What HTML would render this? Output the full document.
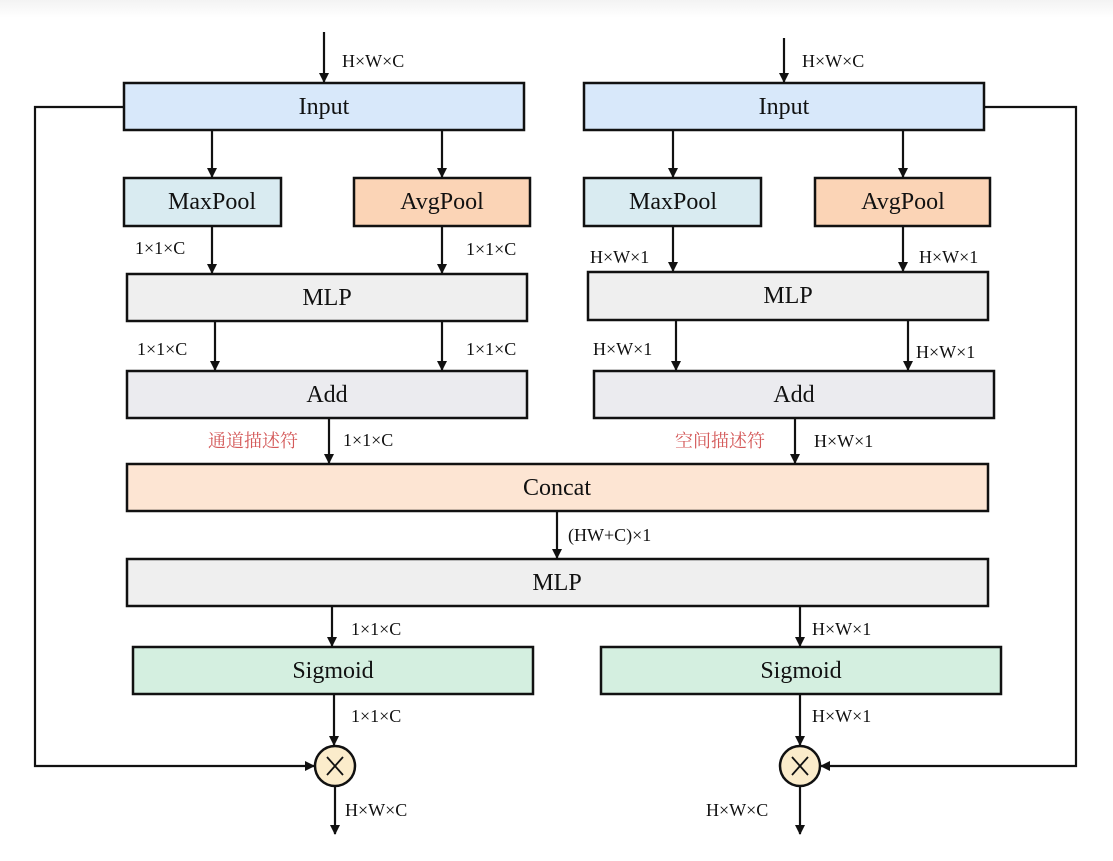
<!DOCTYPE html>
<html><head><meta charset="utf-8"><style>
html,body{margin:0;padding:0;background:#fff;}
svg{display:block;}
text{font-family:"Liberation Serif","Noto Serif CJK SC",serif;fill:#111;}
.b{font-size:24px;text-anchor:middle;dominant-baseline:central;}
.l{font-size:18px;}
.r{font-size:18px;fill:#d45a5a;font-family:"Liberation Serif","Noto Serif CJK SC",serif;}
</style></head><body>
<svg width="1113" height="861" viewBox="0 0 1113 861" xmlns="http://www.w3.org/2000/svg">
<defs>
<linearGradient id="tg" x1="0" y1="0" x2="0" y2="1"><stop offset="0" stop-color="#f3f3f3"/><stop offset="1" stop-color="#fff"/></linearGradient>
<marker id="a" markerWidth="10" markerHeight="10" refX="9" refY="5" orient="auto" markerUnits="userSpaceOnUse"><path d="M0,0 L10,5 L0,10 Z" fill="#111"/></marker>
</defs>
<rect x="0" y="0" width="1113" height="18" fill="url(#tg)"/>
<g stroke="#111" stroke-width="2.5">
<rect x="124" y="83" width="400" height="47" fill="#d8e8fa"/>
<rect x="584" y="83" width="400" height="47" fill="#d8e8fa"/>
<rect x="124" y="178" width="157" height="48" fill="#d9ebf1"/>
<rect x="354" y="178" width="176" height="48" fill="#fbd4b6"/>
<rect x="584" y="178" width="177" height="48" fill="#d9ebf1"/>
<rect x="815" y="178" width="175" height="48" fill="#fbd4b6"/>
<rect x="127" y="274" width="400" height="47" fill="#efefef"/>
<rect x="588" y="272" width="400" height="48" fill="#efefef"/>
<rect x="127" y="371" width="400" height="47" fill="#ebebef"/>
<rect x="594" y="371" width="400" height="47" fill="#ebebef"/>
<rect x="127" y="464" width="861" height="47" fill="#fde5d3"/>
<rect x="127" y="559" width="861" height="47" fill="#efefef"/>
<rect x="133" y="647" width="400" height="47" fill="#d4efe0"/>
<rect x="601" y="647" width="400" height="47" fill="#d4efe0"/>
<circle cx="335" cy="766" r="20" fill="#fbeccb"/>
<circle cx="800" cy="766" r="20" fill="#fbeccb"/>
</g>
<g stroke="#111" stroke-width="1.8">
<line x1="327" y1="757" x2="343" y2="775"/><line x1="343" y1="757" x2="327" y2="775"/>
<line x1="792" y1="757" x2="808" y2="775"/><line x1="808" y1="757" x2="792" y2="775"/>
</g>
<g stroke="#111" stroke-width="2.2" fill="none" marker-end="url(#a)">
<line x1="324" y1="32" x2="324" y2="82"/>
<line x1="784" y1="38" x2="784" y2="82"/>
<line x1="212" y1="131" x2="212" y2="177"/>
<line x1="442" y1="131" x2="442" y2="177"/>
<line x1="673" y1="131" x2="673" y2="177"/>
<line x1="903" y1="131" x2="903" y2="177"/>
<line x1="212" y1="227" x2="212" y2="273"/>
<line x1="442" y1="227" x2="442" y2="273"/>
<line x1="673" y1="227" x2="673" y2="271"/>
<line x1="903" y1="227" x2="903" y2="271"/>
<line x1="215" y1="322" x2="215" y2="370"/>
<line x1="442" y1="322" x2="442" y2="370"/>
<line x1="676" y1="321" x2="676" y2="370"/>
<line x1="908" y1="321" x2="908" y2="370"/>
<line x1="329" y1="419" x2="329" y2="463"/>
<line x1="795" y1="419" x2="795" y2="463"/>
<line x1="557" y1="512" x2="557" y2="558"/>
<line x1="332" y1="607" x2="332" y2="646"/>
<line x1="800" y1="607" x2="800" y2="646"/>
<line x1="334" y1="695" x2="334" y2="745"/>
<line x1="800" y1="695" x2="800" y2="745"/>
<line x1="335" y1="787" x2="335" y2="834"/>
<line x1="800" y1="787" x2="800" y2="834"/>
<polyline points="124,107 35,107 35,766 314,766"/>
<polyline points="984,107 1076,107 1076,766 821,766"/>
</g>
<g class="b">
<text x="324" y="107" class="b">Input</text>
<text x="784" y="107" class="b">Input</text>
<text x="212" y="202" class="b">MaxPool</text>
<text x="442" y="202" class="b">AvgPool</text>
<text x="673" y="202" class="b">MaxPool</text>
<text x="903" y="202" class="b">AvgPool</text>
<text x="327" y="298" class="b">MLP</text>
<text x="788" y="296" class="b">MLP</text>
<text x="327" y="395" class="b">Add</text>
<text x="794" y="395" class="b">Add</text>
<text x="557" y="488" class="b">Concat</text>
<text x="557" y="583" class="b">MLP</text>
<text x="333" y="671" class="b">Sigmoid</text>
<text x="801" y="671" class="b">Sigmoid</text>
</g>
<g class="l">
<text x="342" y="67" class="l">H×W×C</text>
<text x="802" y="67" class="l">H×W×C</text>
<text x="135" y="254" class="l">1×1×C</text>
<text x="466" y="255" class="l">1×1×C</text>
<text x="590" y="263" class="l">H×W×1</text>
<text x="919" y="263" class="l">H×W×1</text>
<text x="137" y="355" class="l">1×1×C</text>
<text x="466" y="355" class="l">1×1×C</text>
<text x="593" y="355" class="l">H×W×1</text>
<text x="916" y="358" class="l">H×W×1</text>
<text x="343" y="446" class="l">1×1×C</text>
<text x="814" y="447" class="l">H×W×1</text>
<text x="568" y="541" class="l">(HW+C)×1</text>
<text x="351" y="635" class="l">1×1×C</text>
<text x="812" y="635" class="l">H×W×1</text>
<text x="351" y="722" class="l">1×1×C</text>
<text x="812" y="722" class="l">H×W×1</text>
<text x="345" y="816" class="l">H×W×C</text>
<text x="706" y="816" class="l">H×W×C</text>
</g>
<text x="208" y="447" class="r">通道描述符</text>
<text x="675" y="447" class="r">空间描述符</text>
</svg>
</body></html>
